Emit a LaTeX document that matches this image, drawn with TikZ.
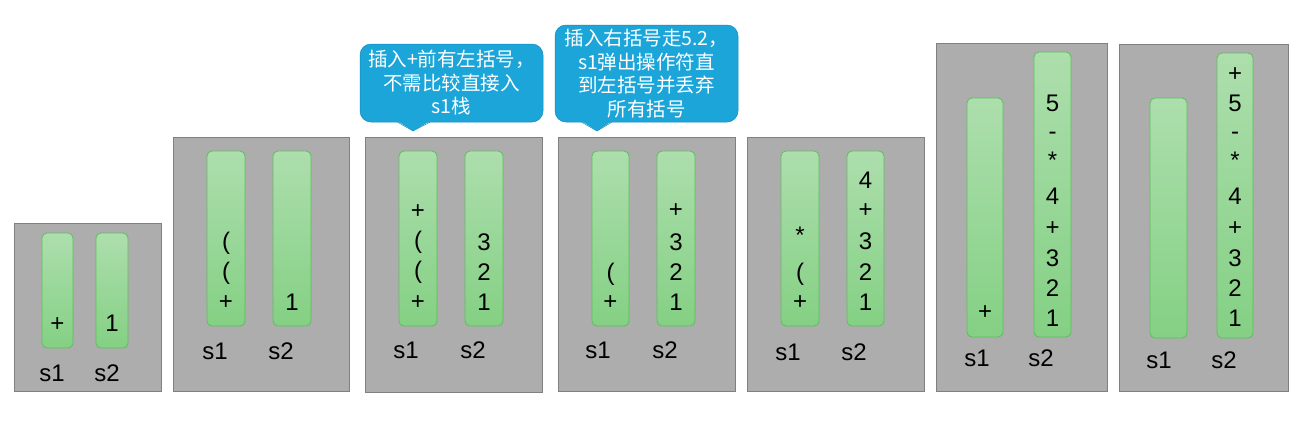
\documentclass[tikz,border=0pt]{standalone}
\usepackage{fontspec}
\setmainfont{Liberation Sans}
\newfontfamily\cjk{Noto Sans CJK SC}
\usepackage{tikz}
\usetikzlibrary{calc,backgrounds}
\definecolor{panelgray}{HTML}{ADADAD}
\definecolor{panelline}{HTML}{808080}
\definecolor{bartop}{HTML}{ADDEAD}
\definecolor{barbot}{HTML}{84D084}
\definecolor{barline}{HTML}{5DBE5D}
\definecolor{notefill}{HTML}{1BA5D9}
\definecolor{noteline}{HTML}{1689BA}
\newcommand{\clrpanel}{panelgray}
\newcommand{\clrnote}{notefill}

\begin{document}
\begin{tikzpicture}[x=1pt, y=-1pt,
    panel/.style={fill=\clrpanel, draw=panelline, line width=1pt},
    bar/.style={top color=bartop, bottom color=barbot, draw=barline, line width=0.8pt, rounded corners=5pt},
    item/.style={inner sep=0pt, font=\fontsize{24}{24}\selectfont},
    lbl/.style={inner sep=0pt, font=\fontsize{24}{24}\selectfont},
    note/.style={fill=\clrnote, draw=noteline, line width=0.5pt, rounded corners=11pt,
        inner sep=0pt, minimum width=183pt, align=center, text=white,
        font=\cjk\fontsize{19.5}{23.5}\selectfont}]
    \useasboundingbox (0,0) rectangle (1315,426);

    % step 1
    \draw[panel] (14,223) rectangle (161,391);
    \draw[bar] (42,233) rectangle (73,348);
    \draw[bar] (96,233) rectangle (128,348);
    \node[item] (a1) at (57.5,325) {+};
    \node[item] (a2) at (112,323) {1};
    \node[lbl] (as1) at (52,373) {s1};
    \node[lbl] (as2) at (107,373) {s2};

    % step 2
    \draw[panel] (173,137) rectangle (349,391);
    \draw[bar] (207,151) rectangle (245,326);
    \draw[bar] (273,151) rectangle (311,326);
    \node[item] (b1) at (226,243) {(};
    \node[item] (b2) at (226,273) {(};
    \node[item] (b3) at (226,303) {+};
    \node[item] (b4) at (292,302) {1};
    \node[lbl] (bs1) at (215,351) {s1};
    \node[lbl] (bs2) at (281,351) {s2};

    % step 3
    \draw[panel] (365,137) rectangle (542,392);
    \draw[bar] (399,151) rectangle (437,326);
    \draw[bar] (465,151) rectangle (503,326);
    \node[item] (c1) at (418,212) {+};
    \node[item] (c2) at (418,242) {(};
    \node[item] (c3) at (418,272) {(};
    \node[item] (c4) at (418,303) {+};
    \node[item] (c5) at (484,242) {3};
    \node[item] (c6) at (484,272) {2};
    \node[item] (c7) at (484,302) {1};
    \node[lbl] (cs1) at (406,350) {s1};
    \node[lbl] (cs2) at (473,350) {s2};

    % step 4
    \draw[panel] (558,137) rectangle (735,391);
    \draw[bar] (592,151) rectangle (629,326);
    \draw[bar] (657,151) rectangle (695,326);
    \node[item] (d1) at (610.5,274) {(};
    \node[item] (d2) at (610.5,303) {+};
    \node[item] (d3) at (676,211) {+};
    \node[item] (d4) at (676,242) {3};
    \node[item] (d5) at (676,272) {2};
    \node[item] (d6) at (676,302) {1};
    \node[lbl] (ds1) at (598,350) {s1};
    \node[lbl] (ds2) at (665,350) {s2};

    % step 5
    \draw[panel] (747,137) rectangle (924,391);
    \draw[bar] (781,151) rectangle (819,326);
    \draw[bar] (847,151) rectangle (884,326);
    \node[item] (e1) at (800,235) {*};
    \node[item] (e2) at (800,274) {(};
    \node[item] (e3) at (800,303) {+};
    \node[item] (e4) at (865.5,180) {4};
    \node[item] (e5) at (865.5,211) {+};
    \node[item] (e6) at (865.5,241) {3};
    \node[item] (e7) at (865.5,272) {2};
    \node[item] (e8) at (865.5,302) {1};
    \node[lbl] (es1) at (788,352) {s1};
    \node[lbl] (es2) at (854,352) {s2};

    % step 6
    \draw[panel] (936,43) rectangle (1107,391);
    \draw[bar] (967,98) rectangle (1003,337);
    \draw[bar] (1034,52) rectangle (1071,337);
    \node[item] (f1) at (985,313) {+};
    \node[item] (f2) at (1052.5,103) {5};
    \node[item] (f3) at (1052.5,136) {-};
    \node[item] (f4) at (1052.5,160) {*};
    \node[item] (f5) at (1052.5,196) {4};
    \node[item] (f6) at (1052.5,229) {+};
    \node[item] (f7) at (1052.5,258) {3};
    \node[item] (f8) at (1052.5,288) {2};
    \node[item] (f9) at (1052.5,318) {1};
    \node[lbl] (fs1) at (977,358) {s1};
    \node[lbl] (fs2) at (1041,358) {s2};

    % step 7
    \draw[panel] (1119,44) rectangle (1288,391);
    \draw[bar] (1150,98) rectangle (1187,338);
    \draw[bar] (1217,53) rectangle (1253,338);
    \node[item] (g1) at (1235,75) {+};
    \node[item] (g2) at (1235,103) {5};
    \node[item] (g3) at (1235,136) {-};
    \node[item] (g4) at (1235,160) {*};
    \node[item] (g5) at (1235,196) {4};
    \node[item] (g6) at (1235,229) {+};
    \node[item] (g7) at (1235,258) {3};
    \node[item] (g8) at (1235,288) {2};
    \node[item] (g9) at (1235,318) {1};
    \node[lbl] (gs1) at (1159,360) {s1};
    \node[lbl] (gs2) at (1224,360) {s2};

    % notes
    \node[note, minimum height=78pt] (note1) at (451.5,83) {插入+前有左括号，\\不需比较直接入\\s1栈};
    \fill[\clrnote] ([xshift=38pt,yshift=1pt]note1.south west) -- (413,131) -- ([xshift=70pt,yshift=1pt]note1.south west) -- cycle;
    \draw[noteline, line width=0.5pt] ([xshift=38pt]note1.south west) -- (413,131) -- ([xshift=70pt]note1.south west);

    \node[note, minimum height=97pt] (note2) at (646.5,73.5) {插入右括号走5.2，\\s1弹出操作符直\\到左括号并丢弃\\所有括号};
    \fill[\clrnote] ([xshift=27pt,yshift=1pt]note2.south west) -- (597,131) -- ([xshift=57pt,yshift=1pt]note2.south west) -- cycle;
    \draw[noteline, line width=0.5pt] ([xshift=27pt]note2.south west) -- (597,131) -- ([xshift=57pt]note2.south west);
\end{tikzpicture}
\end{document}
